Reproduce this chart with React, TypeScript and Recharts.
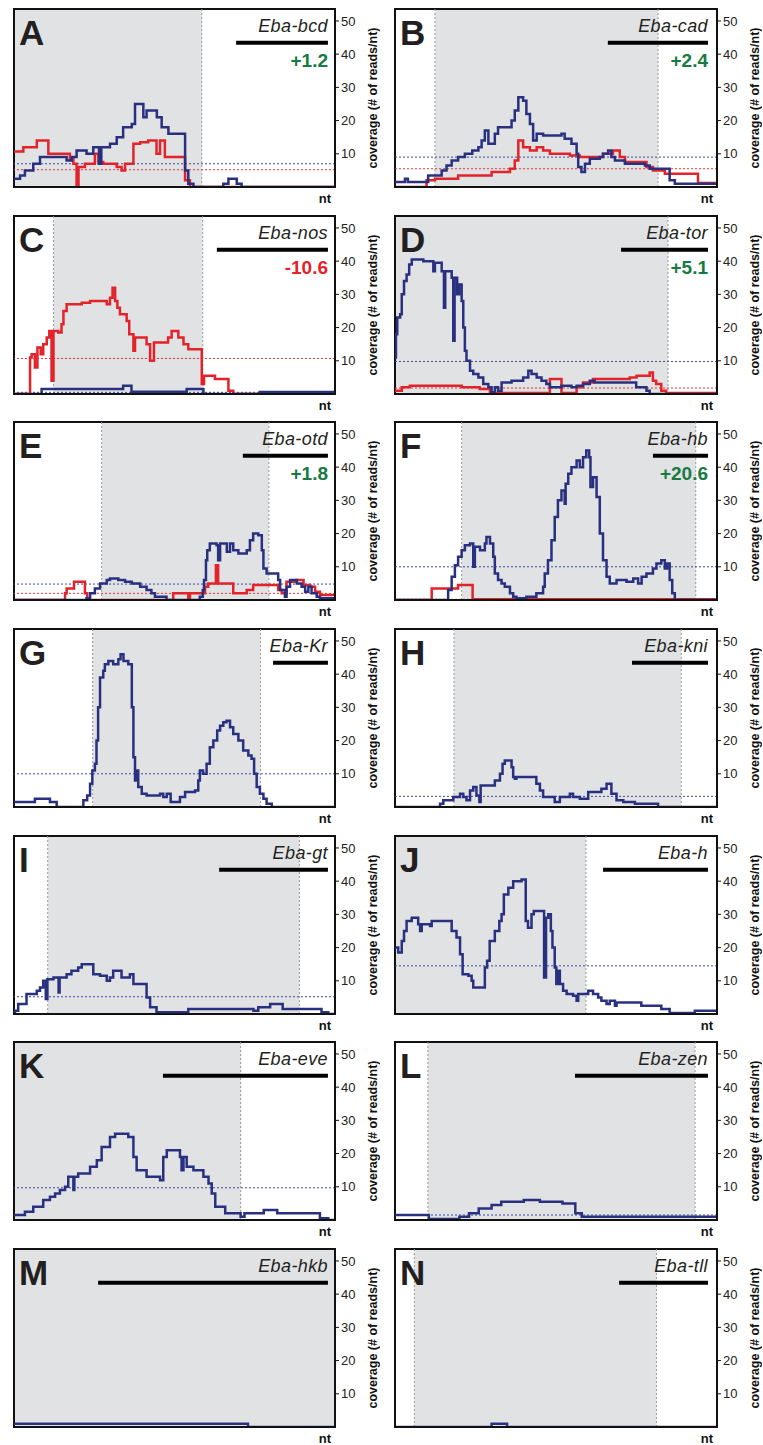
import { LineChart, Line, XAxis, YAxis, ReferenceArea, ReferenceLine } from "recharts";

type Pt = [number, number];

// x = position along the locus (% of plot width), y = coverage (# of reads/nt)
const A_BLUE: Pt[] = [[0,2.5],[1.9,3.5],[3.4,5],[6,7],[8.1,9],[16.4,8],[18,9],[19.5,11],[22.6,10],[24.7,12],[26.5,7],[27.2,12],[29.9,13],[32,15],[34,18],[36.7,19],[37.7,25],[40.3,21],[41.3,23],[44.5,21],[46,18],[48.1,16],[53.3,5],[54.3,1],[55.9,0],[65.2,1],[66.8,2.5],[69.4,1],[70.9,0],[100,0]];
const A_RED: Pt[] = [[0,10.7],[2.9,12],[7.1,14],[10.7,10],[17.4,8.5],[18.5,7],[19.5,0.5],[20.1,6],[22.1,7],[25.2,10],[26.3,7.5],[27.8,7],[32,6],[33.5,5],[34.6,7],[37.2,13],[39.3,13.5],[41.8,14],[44.4,10],[45.5,14],[47,9],[53.3,2],[54.8,0],[100,0]];
const B_BLUE: Pt[] = [[0,1.5],[3.1,2.5],[4,1.5],[10.3,3.5],[14.5,5],[16,6.5],[17.6,8],[19.6,9],[21.7,10],[24,11],[25.9,12],[26.9,14],[27.9,17],[29,13],[31,16],[32,18],[36.2,20],[37.2,23],[38.3,27],[39.8,26],[40.8,22],[41.9,19],[42.9,14],[44,16],[46,15.5],[51.7,16],[52.7,14.5],[54.8,13],[56.4,10],[56.9,6],[57.9,4.5],[59,7],[60.5,8.5],[63.6,9],[64.6,10],[66.2,11],[67.2,9],[68.3,8],[71.4,7],[77.6,6.5],[79.1,5.5],[85.3,2],[86.9,1],[100,1]];
const B_RED: Pt[] = [[0,0],[9.8,2],[12.4,2.5],[19.6,3.5],[30,4.5],[35.7,5.5],[37.2,8],[38.3,14],[39.8,12],[41.9,11],[44,12],[46,11],[48.1,10],[54.3,9.5],[57.4,9],[64.6,10],[67.7,11],[69.8,9],[71.4,7.5],[78.1,6],[80.1,5],[83.8,4],[94.1,1.2],[100,1.2]];
const C_BLUE: Pt[] = [[0,0],[8.6,1.5],[34,2.5],[36.6,0.7],[53.8,1.5],[59,0],[76.6,0.6],[98.4,0.6],[100,0.6]];
const C_RED: Pt[] = [[0,0],[5,11],[5.5,12],[6.5,8],[7.3,14],[8.3,12],[9.1,15],[10.2,17],[11,19],[11.7,4],[12.3,19],[13.8,18.5],[14.8,21],[15.4,25],[16.4,27],[21.1,27.5],[23.7,28],[28.9,27],[29.9,29],[30.7,32],[31.5,28],[32.2,26],[33,24],[35.1,22],[35.9,18],[37.2,13],[37.7,17],[41.3,15],[42.4,10],[43.6,15.5],[48,17],[49.1,19],[51.2,17],[52.8,15],[54.3,13.5],[58.5,3],[59.2,5.5],[62.6,4.5],[66.8,1],[68.3,0],[100,0]];
const D_BLUE: Pt[] = [[0,11],[0.3,18],[0.7,23],[1.6,24],[2.1,30],[2.8,34],[3.6,36],[4.4,39],[5.2,40.5],[8.8,40],[11.9,37],[12.4,39.5],[14.5,37],[15.2,26],[15.6,37],[17.6,35],[18.1,16],[18.5,35],[19.3,30],[19.9,33],[20.7,28],[21.2,20],[21.7,13],[22.2,10],[23.3,7],[24.3,6],[25.9,5],[27.4,3],[29,2],[30,0.5],[31,2],[32,1],[33.1,3.5],[36.2,4],[39.8,5],[41.4,7],[42.4,6],[44,5],[45.5,4],[47,3],[48.1,2],[51.7,2.5],[54.8,2],[56.4,2.5],[58.4,3],[60.5,4],[62,3.5],[74.9,2],[78.1,1],[79.1,0],[100,0]];
const D_RED: Pt[] = [[0,1],[2.1,2],[4.6,2.5],[20.7,2],[26.3,1.5],[29.5,0.3],[48.1,4.5],[51.7,0.3],[56.4,2],[58.4,3.5],[61.5,4.5],[72.9,5],[75,5.5],[79.1,6.5],[80.1,4],[81.1,3],[82.7,1],[84.2,0.3],[100,0]];
const E_BLUE: Pt[] = [[0,0],[22.6,0.5],[23.7,2],[25.2,3.5],[26.8,5],[28.9,6],[29.9,6.5],[32.5,6],[34.6,5.5],[36.7,5],[39.3,4],[41.3,3],[42.8,2],[43.9,1],[47.5,0],[57.9,1],[58.8,3],[59.2,6],[59.8,12],[60.2,15],[61,17],[63.1,16.5],[63.6,12],[64.2,17],[66.3,14.5],[67.3,17],[68.3,15],[69.9,14],[72.5,15],[73.5,18],[74.5,20],[76.1,19.5],[77.2,15],[77.7,9.5],[78.7,8],[82.3,6],[82.9,3],[84.4,1],[84.9,4],[86,6],[88.1,5],[89.6,4],[90.7,2.5],[91.7,4],[92.7,2],[94.3,1],[95.3,0.5],[100,0.5]];
const E_RED: Pt[] = [[0,0],[15.9,2],[16.4,3.5],[18.7,5.5],[22.1,2],[22.8,0],[49.6,2],[54.3,0.5],[54.8,2],[59.5,4],[60.5,5],[62.9,10.5],[63.6,5],[68.3,2],[72.5,3],[74.5,4.5],[82.3,3],[83.4,2],[84.9,5.5],[88.1,6],[90.2,4.5],[92.3,4],[93.8,2.5],[95.3,1.5],[100,1.5]];
const F_BLUE: Pt[] = [[0,0],[16.5,3],[17.6,7],[18.6,10.5],[19.6,13],[20.7,15],[21.7,16.5],[23.3,17],[24.3,10],[24.8,16],[26.4,15],[27.9,17],[28.4,19],[29.5,17],[30.5,13],[31,8],[32,6],[33.1,5],[34.1,4],[35.7,2],[36.7,1],[37.7,0.5],[40.8,1],[43.9,2],[46,4],[46.5,8],[47.5,12],[48.6,18],[49.6,25],[50.6,30],[51.7,33],[52.7,29],[53,35],[53.8,38],[54.8,40],[56.4,42],[57.4,40],[58.4,43],[59.4,45],[60.3,43],[60.7,34],[61.5,37],[62.6,31],[63.6,20],[64.6,12],[65.7,7],[66.7,5],[68.8,6],[71.9,5.5],[74,6.5],[75.5,5],[76.6,7],[78.1,8],[80.1,9.5],[81.2,11],[82.7,12],[83.8,9.5],[84.5,11],[85.3,6],[86.1,2],[86.9,0],[100,0]];
const F_RED: Pt[] = [[0,0],[11.4,3.5],[19.6,4.5],[24.1,0.2],[100,0.2]];
const G_BLUE: Pt[] = [[0,1.5],[6.5,2.5],[11.2,1.5],[13.3,0],[21.6,2],[22.8,3.5],[23.7,7],[24.4,11],[25.2,13],[25.7,20],[26.2,30],[26.8,39],[27.8,41],[28.3,43],[29.4,44],[30.9,43],[32.5,44.5],[33.2,46],[34.1,44],[35.6,43],[36.7,30],[37.2,15],[37.7,8],[38.2,11],[38.7,6],[39.8,4],[41.3,3.5],[45.5,4],[46.5,3],[47.6,4],[48.8,1.5],[51.7,3],[53.3,4.5],[56.4,5],[57.4,8],[57.9,11],[58.9,10],[60,13],[61,18],[62.1,20],[63.3,23],[64.2,24.5],[65.2,25.5],[66.2,26],[67.3,24],[68.3,22],[69.9,20],[71.4,17],[73,15.5],[74,14.5],[74.8,10],[75.6,6],[76.6,4],[77.7,2.5],[78.7,1],[80.3,0],[100,0]];
const H_BLUE: Pt[] = [[0,0],[14,1],[15,2],[18.1,3],[20.2,4],[21.2,3],[22.2,2],[23.3,5],[24.3,6],[25.3,3.5],[26.2,1.5],[26.6,6.5],[31,8],[32.6,10],[33.4,13],[34.1,14],[36.2,12],[36.7,9],[37.2,8.5],[37.7,9],[43.9,7],[45,5],[46,3],[49.6,1.5],[51.2,3],[54.3,4],[55.3,3],[57.4,2.5],[60,4.5],[64.1,5.5],[65.7,7],[67.2,4],[68.8,2],[70.9,1.5],[74.5,1],[81.7,0],[100,0]];
const I_BLUE: Pt[] = [[0,0],[0.3,1],[1.3,3],[3.9,6],[7.1,7],[8.1,8],[9.1,10],[9.9,4.5],[10.4,10.5],[12.3,11],[13.9,6.5],[14.2,11],[16.4,12],[17.9,13],[20,14],[21.1,15],[24.7,12],[26.8,11.5],[28.9,10],[29.9,11],[30.9,13],[33.5,11],[36.1,12],[37.2,9],[41.3,5],[42.4,2],[44.4,0.5],[54.3,1.5],[74.6,1],[76.1,2],[79.8,3],[83.7,1.5],[95.8,0.5],[97.9,0],[100,0]];
const J_BLUE: Pt[] = [[0,20],[1,18.5],[2.1,22],[2.8,25],[3.6,28],[5.2,29],[7.2,27],[7.8,25],[8.3,27],[10.9,26.5],[11.4,28],[17.6,25],[19.1,23],[20.2,18],[21,12],[22.8,11.5],[23.8,10],[24.3,8],[27.9,14],[28.6,16],[29.4,22],[31,25],[32.4,28],[33.1,30],[33.8,36],[35.2,38],[36.7,40],[39.3,40.5],[40.6,28],[41.3,26],[42.4,30],[43.1,31],[46.3,11],[46.9,29],[47.6,30],[48.4,25],[48.9,20],[49.6,14],[50.1,9],[50.7,13],[51.2,9],[52.2,7],[53.3,6],[55.3,5.5],[56.4,4],[56.9,6],[60,7],[61.5,6],[63.1,5],[64.1,4],[65.7,3],[66.7,4],[68.3,2.5],[68.8,3.5],[76.5,2.5],[82.7,1.5],[85.3,0.3],[93.1,1],[100,1]];
const K_BLUE: Pt[] = [[0,1.5],[3.4,2.5],[6,4],[9.1,6],[11.2,7],[12.8,8],[14.3,9],[15.9,10],[16.9,13],[18.5,9],[18.8,13],[20,14],[23.7,16],[25.8,18],[27.3,22],[29.9,25],[31.5,26],[35.6,25],[37.2,19],[38.2,15],[41.3,13],[45.5,12],[46.5,19],[47.6,21],[51.7,19],[52.2,15],[52.8,19],[53.8,16],[55.9,15],[59,13],[60.6,11],[61.6,8],[62.7,4],[65.8,2],[70.6,1],[71.8,2],[77.8,3],[82,2],[95.3,0.5],[97.9,0],[100,0]];
const L_BLUE: Pt[] = [[0,1.5],[10.5,0.3],[20,1],[23,2],[26,3.5],[30,4.5],[33,5.5],[40,6],[45,5.5],[52,5],[56,2],[58,1],[100,1]];
const M_BLUE: Pt[] = [[0,1],[72.9,0],[100,0]];
const N_BLUE: Pt[] = [[0,0],[30,1],[34.8,0],[100,0]];

const LETTERS = ["A","B","C","D","E","F","G","H","I","J","K","L","M","N"];
const GENES = ["Eba-bcd","Eba-cad","Eba-nos","Eba-tor","Eba-otd","Eba-hb","Eba-Kr","Eba-kni","Eba-gt","Eba-h","Eba-eve","Eba-zen","Eba-hkb","Eba-tll"];
const SCORES = ["+1.2","+2.4","-10.6","+5.1","+1.8","+20.6",null,null,null,null,null,null,null,null];
const SHADES: Pt[] = [[0,58.5],[12.4,81.7],[12.3,58.8],[0,84.8],[27.3,79.4],[20.7,93.4],[24.5,76.8],[18.3,88.9],[10.5,88.9],[0,59.3],[0,70.6],[10.2,93.2],[0,100],[6,81.2]];
const BARS: Pt[] = [[69.2,97.8],[66.1,97.2],[63.2,97.8],[70.2,97.2],[71.3,97.8],[80.1,97.2],[80.7,97.8],[73.6,97.2],[63.9,97.8],[64.6,97.2],[46.4,97.8],[55.9,97.2],[26.2,97.8],[69.6,97.2]];
const BLUE_CUTOFF = [7,9,0.5,9.8,4.8,10,10,3.2,5.2,14.5,9.7,1.5,null,null];
const RED_CUTOFF = [5.2,5.5,10.7,1.8,2,0.2,null,null,null,null,null,null,null,null];
const BLUE = [A_BLUE,B_BLUE,C_BLUE,D_BLUE,E_BLUE,F_BLUE,G_BLUE,H_BLUE,I_BLUE,J_BLUE,K_BLUE,L_BLUE,M_BLUE,N_BLUE];
const RED = [A_RED,B_RED,C_RED,D_RED,E_RED,F_RED,null,null,null,null,null,null,null,null];
const Y_TICKS = [10,20,30,40,50];

const Y_MAX = 53.6;
const BAR_Y = 43.4;
const FONT = '"Liberation Sans", Arial, Helvetica, sans-serif';
const NAVY = "#28307f";
const RED_C = "#e3232a";
const GREEN = "#187a43";

const toRows = (pts: Pt[]) => pts.map(([x, v]) => ({ x, v }));

function NtLabel(props: any) {
  const vb = props.viewBox;
  if (!vb) return null;
  return (
    <text x={vb.x + vb.width - 4} y={vb.y + 16} textAnchor="end" fontFamily={FONT} fontWeight="bold" fontSize={13} fill="#111">
      nt
    </text>
  );
}

function YTitle(props: any) {
  const vb = props.viewBox;
  if (!vb) return null;
  const cx = vb.x + 38;
  const cy = vb.y + vb.height / 2;
  return (
    <text x={cx} y={cy} transform={`rotate(-90 ${cx} ${cy})`} textAnchor="middle" dominantBaseline="central" fontFamily={FONT} fontWeight="bold" fontSize={12.5} fill="#111">
      coverage (# of reads/nt)
    </text>
  );
}

function Panel({ i }: { i: number }) {
  const col = i % 2;
  const row = Math.floor(i / 2);
  const plotLeft = col === 0 ? 14 : 15;
  const plotW = col === 0 ? 321 : 322;
  const axisW = 45;
  const W = plotLeft + plotW + axisW;
  const H = 5 + 178 + 20;
  const left = col === 0 ? 0 : 380;
  const top = Math.round(9 + row * 206.67) - 5;
  const [s1, s2] = SHADES[i];
  const [b1, b2] = BARS[i];
  const red = RED[i];
  const textRight = plotLeft + plotW - (col === 0 ? 7 : 9);
  const score = SCORES[i];

  return (
    <div style={{ position: "absolute", left, top, width: W, height: H }}>
      <LineChart width={W} height={H} margin={{ top: 5, right: 0, bottom: 0, left: plotLeft }}>
        <XAxis type="number" dataKey="x" domain={[0, 100]} tick={false} tickLine={false} height={20}
          axisLine={{ stroke: "#111", strokeWidth: 2 }} label={<NtLabel />} allowDataOverflow />
        <YAxis orientation="right" type="number" domain={[0, Y_MAX]} ticks={Y_TICKS} width={axisW}
          tickSize={4} tickMargin={2} axisLine={{ stroke: "#111", strokeWidth: 2 }}
          tickLine={{ stroke: "#111" }} tick={{ fontSize: 13, fill: "#222", fontFamily: FONT }}
          label={<YTitle />} allowDataOverflow />
        <ReferenceArea x1={s1} x2={s2} y1={0} y2={Y_MAX} fill="#e1e2e4" fillOpacity={1} stroke="none" />
        {s1 > 0 && <ReferenceLine x={s1} stroke="#9a9a9a" strokeDasharray="2 2" strokeWidth={1} />}
        {s2 < 100 && <ReferenceLine x={s2} stroke="#9a9a9a" strokeDasharray="2 2" strokeWidth={1} />}
        {BLUE_CUTOFF[i] != null && (
          <ReferenceLine y={BLUE_CUTOFF[i] as number} stroke="#3d4aa0" strokeDasharray="2 2" strokeWidth={1} />
        )}
        {RED_CUTOFF[i] != null && (
          <ReferenceLine y={RED_CUTOFF[i] as number} stroke="#e8353b" strokeDasharray="2 2" strokeWidth={1} />
        )}
        {red && (
          <Line data={toRows(red)} dataKey="v" type="stepAfter" stroke={RED_C} strokeWidth={2.5}
            dot={false} activeDot={false} isAnimationActive={false} />
        )}
        <Line data={toRows(BLUE[i])} dataKey="v" type="stepAfter" stroke={NAVY} strokeWidth={2.5}
          dot={false} activeDot={false} isAnimationActive={false} />
        <ReferenceLine segment={[{ x: b1, y: BAR_Y }, { x: b2, y: BAR_Y }]} stroke="#000" strokeWidth={4} />
        <ReferenceArea x1={0} x2={100} y1={0} y2={Y_MAX} fill="none" stroke="#111" strokeWidth={2} />
      </LineChart>
      <svg width={W} height={H} style={{ position: "absolute", left: 0, top: 0, pointerEvents: "none" }}>
        <text x={plotLeft + 5} y={5 + 36} fontFamily={FONT} fontWeight="bold" fontSize={35} fill="#231f20">
          {LETTERS[i]}
        </text>
        <text x={textRight} y={5 + 23} textAnchor="end" fontFamily={FONT} fontStyle="italic" fontSize={18} letterSpacing={0.4} fill="#231f20">
          {GENES[i]}
        </text>
        {score && (
          <text x={textRight} y={5 + 58} textAnchor="end" fontFamily={FONT} fontWeight="bold" fontSize={19}
            fill={score.startsWith("-") ? RED_C : GREEN}>
            {score}
          </text>
        )}
      </svg>
    </div>
  );
}

export default function App() {
  return (
    <div style={{ position: "absolute", left: 0, top: 0, width: 763, height: 1445, background: "#fff" }}>
      {LETTERS.map((_, i) => (
        <Panel key={i} i={i} />
      ))}
    </div>
  );
}
